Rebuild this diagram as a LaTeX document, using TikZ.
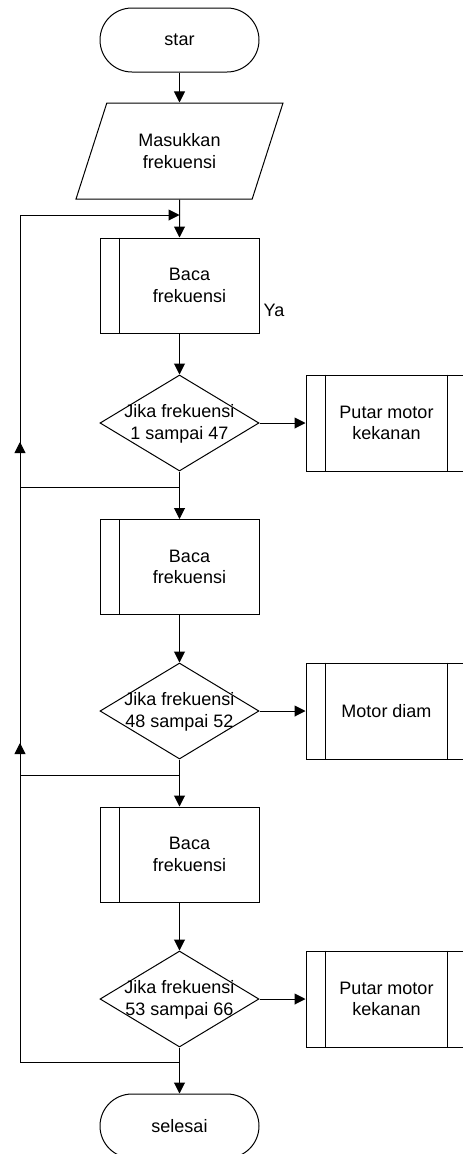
\documentclass[tikz,border=0pt]{standalone}
\usepackage{fontspec}
\setmainfont{Liberation Sans}
\usetikzlibrary{shapes.geometric,arrows.meta}

\tikzset{
  flowline/.style={line width=1pt},
  arr/.style={flowline, -{Triangle[length=11pt,width=11pt]}},
  termnode/.style={draw, flowline, rectangle, rounded corners=32pt, minimum width=159pt, minimum height=64pt, inner sep=0pt},
  ionode/.style={draw, flowline, trapezium, trapezium left angle=63.4, trapezium right angle=116.6, trapezium stretches=true, minimum width=207pt, minimum height=96pt, inner sep=0pt},
  procnode/.style={draw, flowline, rectangle, minimum width=159pt, minimum height=95pt, inner sep=0pt},
  subnode/.style={draw, flowline, rectangle, minimum width=161pt, minimum height=96pt, inner sep=0pt},
  decnode/.style={draw, flowline, diamond, minimum width=159pt, minimum height=96pt, inner sep=0pt},
}

\begin{document}
\begin{tikzpicture}[x=1pt, y=-1pt, every node/.style={align=center, font=\fontsize{18}{21.5}\selectfont}]
  \useasboundingbox (0,0) rectangle (463,1154);

  %%%%% SHAPES %%%%%
  \node[termnode] (start) at (179.5,40) {star};
  \node[ionode] (input) at (179.5,151) {Masukkan\\frekuensi};

  \node[procnode] (b1) at (179.5,285.5) {};
  \node[inner sep=0pt] (b1txt) at (189.5,285.5) {Baca\\frekuensi};
  \node[decnode] (d1) at (179.5,423) {};
  \node[inner sep=0pt] (d1txt) at (179.5,424) {Jika frekuensi\\1 sampai 47};
  \node[subnode] (r1) at (386.5,423) {Putar motor\\kekanan};

  \node[procnode] (b2) at (179.5,567) {};
  \node[inner sep=0pt] (b2txt) at (189.5,567) {Baca\\frekuensi};
  \node[decnode] (d2) at (179.5,711) {};
  \node[inner sep=0pt] (d2txt) at (179.5,712) {Jika frekuensi\\48 sampai 52};
  \node[subnode] (r2) at (386.5,711) {Motor diam};

  \node[procnode] (b3) at (179.5,854.5) {};
  \node[inner sep=0pt] (b3txt) at (189.5,854.5) {Baca\\frekuensi};
  \node[decnode] (d3) at (179.5,999) {};
  \node[inner sep=0pt] (d3txt) at (179.5,1000) {Jika frekuensi\\53 sampai 66};
  \node[subnode] (r3) at (386.5,999) {Putar motor\\kekanan};

  \node[termnode] (stop) at (179.5,1126) {selesai};

  \node (ya) at (274,310) {Ya};

  % inner bars
  \foreach \b in {b1,b2,b3}
    \draw[flowline] ([xshift=20pt]\b.north west) -- ([xshift=20pt]\b.south west);
  \foreach \r in {r1,r2,r3} {
    \draw[flowline] ([xshift=20pt]\r.north west) -- ([xshift=20pt]\r.south west);
    \draw[flowline] ([xshift=-20pt]\r.north east) -- ([xshift=-20pt]\r.south east);
  }

  %%%%% JOINTS %%%%%
  \coordinate (top) at (179.5,215);
  \coordinate (l0) at (20,215);
  \coordinate (j1) at (179.5,487);
  \coordinate (l1) at (20,487);
  \coordinate (j2) at (179.5,775);
  \coordinate (l2) at (20,775);
  \coordinate (j3) at (179.5,1062);
  \coordinate (l3) at (20,1062);
  \coordinate (up1) at (20,442);
  \coordinate (up2) at (20,743);

  %%%%% CONNECTORS %%%%%
  \draw[arr] (start) -- (input);
  \draw[arr] (input) -- (b1);
  \draw[arr] (b1) -- (d1);
  \draw[arr] (d1) -- (r1);
  \draw[arr] (d1) -- (b2);
  \draw[arr] (b2) -- (d2);
  \draw[arr] (d2) -- (r2);
  \draw[arr] (d2) -- (b3);
  \draw[arr] (b3) -- (d3);
  \draw[arr] (d3) -- (r3);
  \draw[arr] (d3) -- (stop);

  \draw[arr] (j1) -- (l1) -- (l0) -- (top);
  \draw[arr] (j2) -- (l2) -- (up1);
  \draw[arr] (j3) -- (l3) -- (up2);
\end{tikzpicture}
\end{document}
